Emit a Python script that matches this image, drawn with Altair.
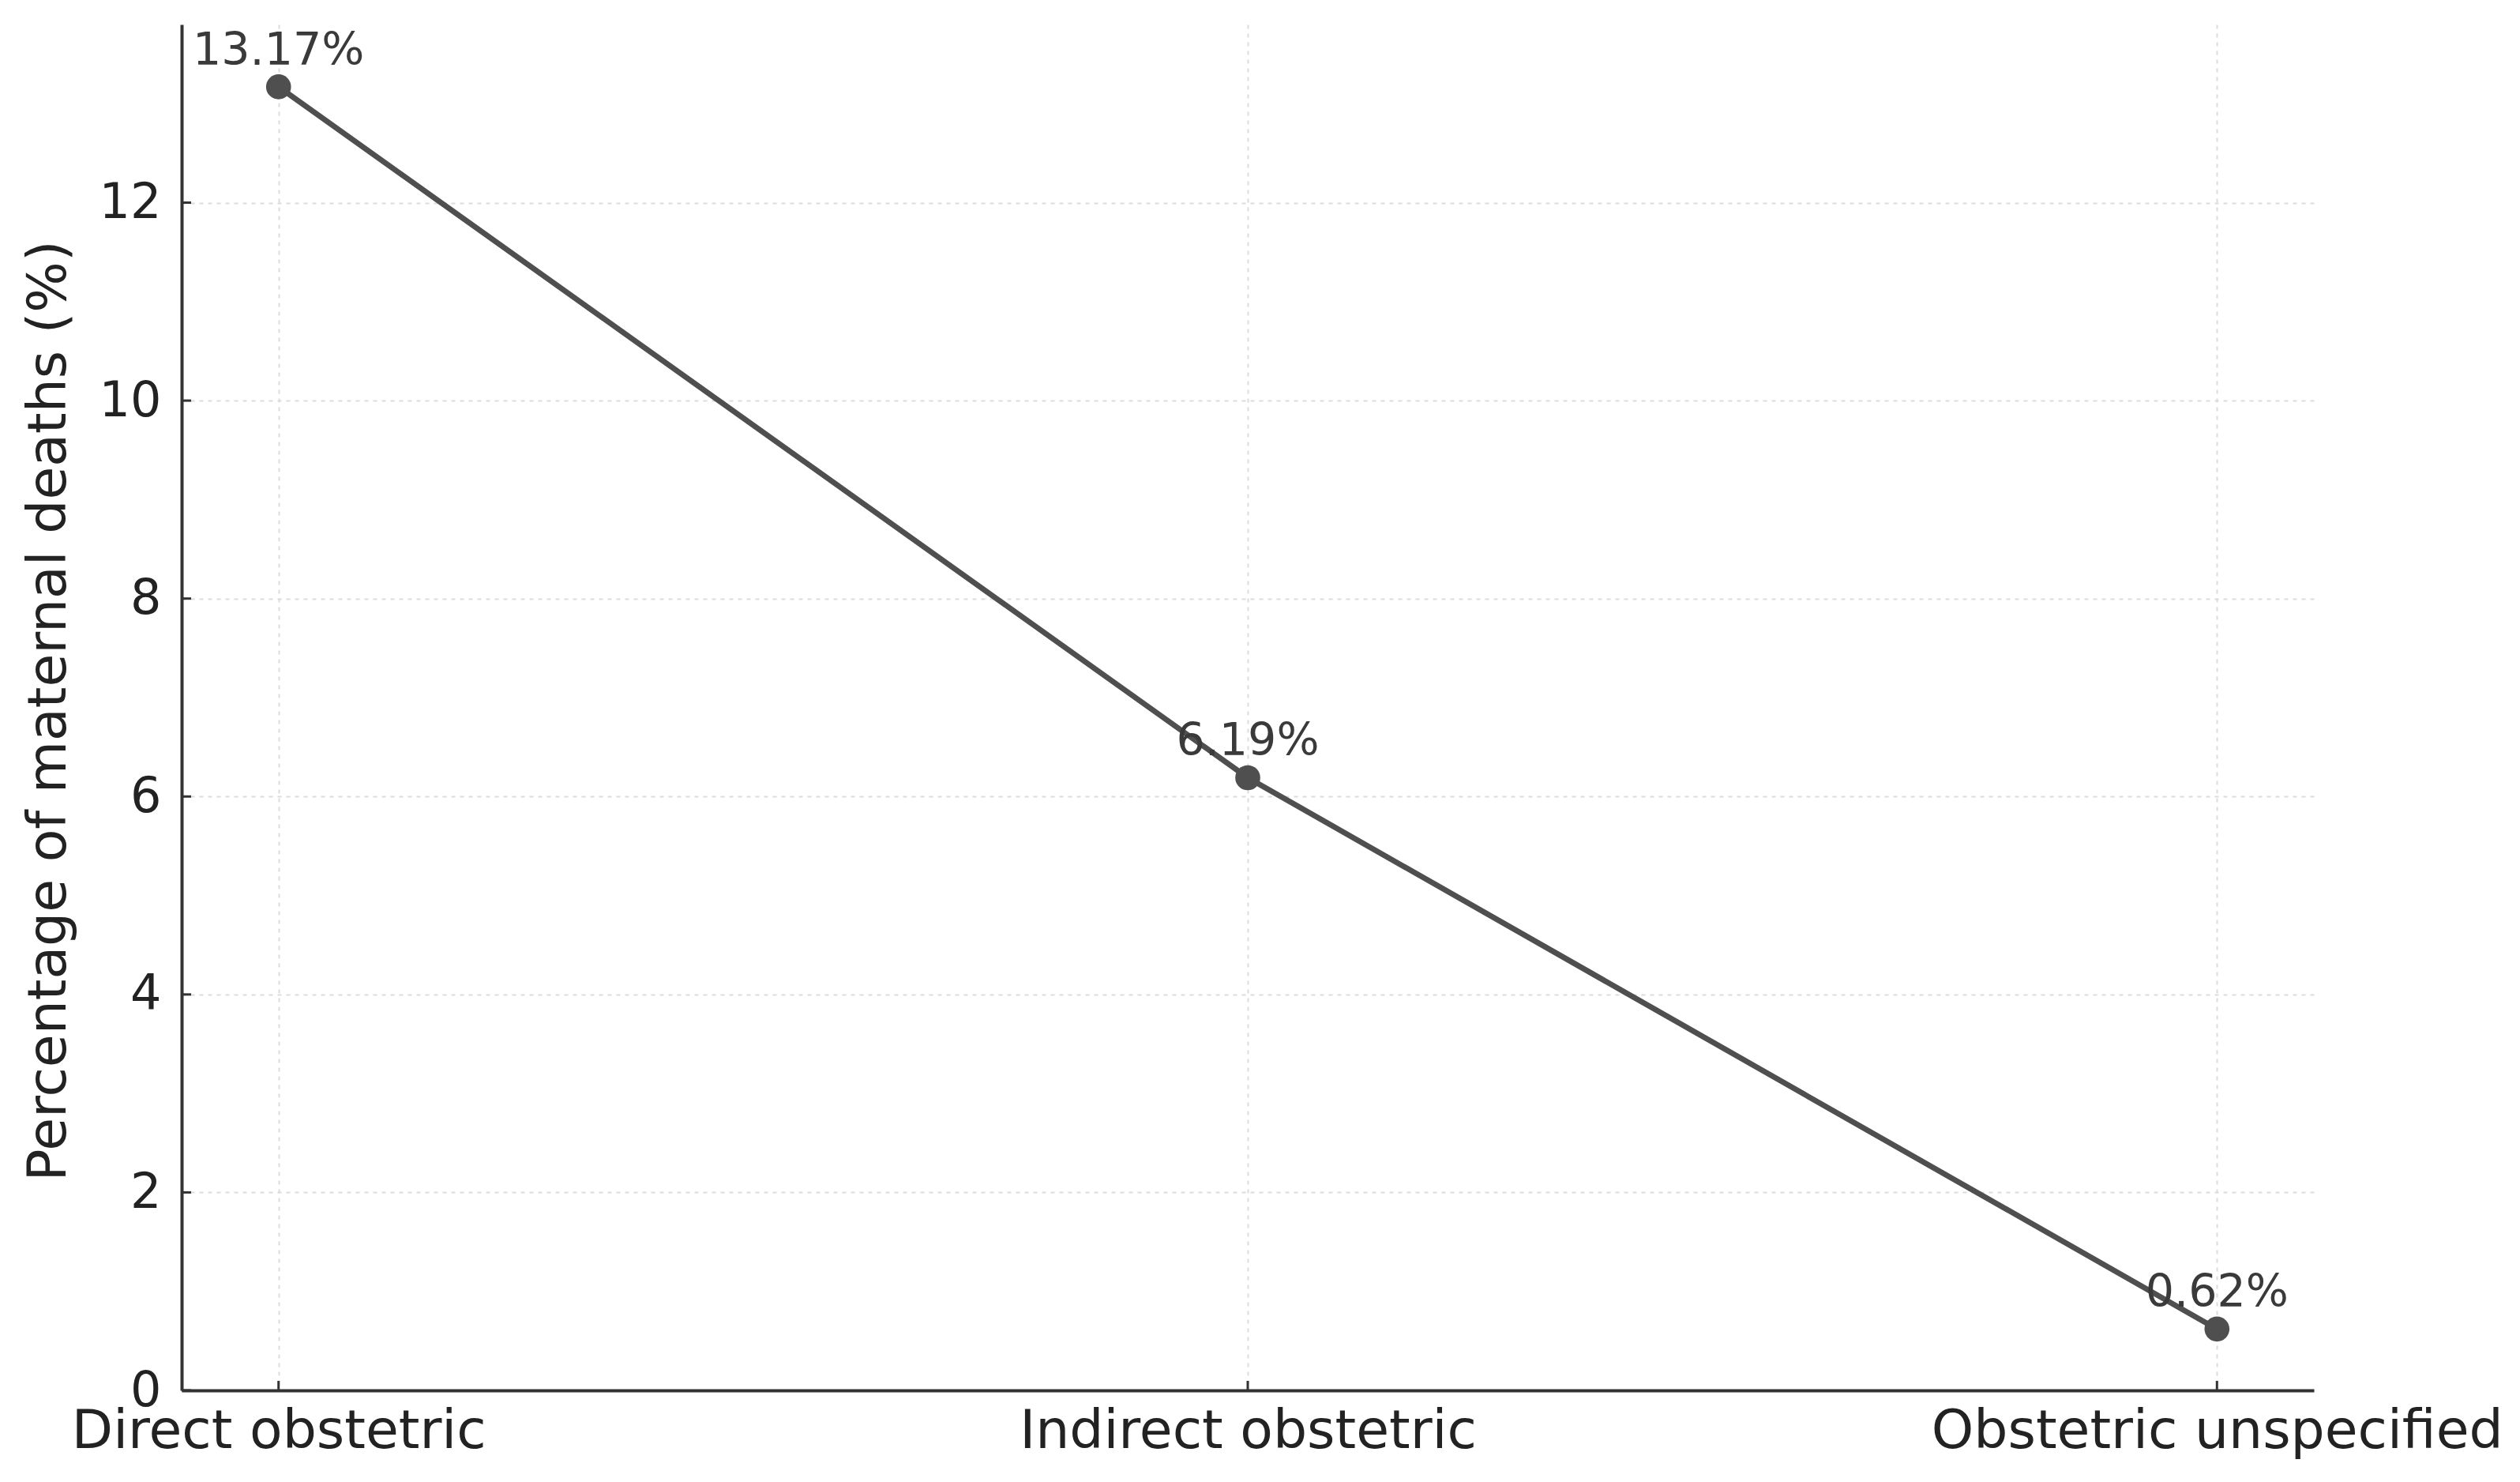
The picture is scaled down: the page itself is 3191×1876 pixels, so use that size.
import altair as alt
import pandas as pd

categories = ["Direct obstetric", "Indirect obstetric", "Obstetric unspecified"]
values = [13.17, 6.19, 0.62]
labels = ["13.17%", "6.19%", "0.62%"]
y_ticks = [0, 2, 4, 6, 8, 10, 12]

W, H = 2700, 1729
FONT = "DejaVu Sans"
LINE = "#4f4f4f"
AXIS = "#333333"

df = pd.DataFrame({"cat": categories, "val": values, "lab": labels})
ticks_df = pd.DataFrame({"t": y_ticks})

xs = alt.Scale(type="point", domain=categories, padding=0.1)
ys = alt.Scale(domain=[0, 13.8], nice=False, zero=True)

x_enc = alt.X("cat:N", scale=xs, sort=categories,
              axis=alt.Axis(title=None, labelAngle=0, labelFontSize=68, labelFont=FONT,
                            labelColor="#222222", labelPadding=18, ticks=False, labelLimit=2000,
                            domainColor=AXIS, domainWidth=4,
                            grid=True, gridColor="#dcdcdc", gridDash=[5, 6], gridWidth=2))
y_enc = alt.Y("val:Q", scale=ys,
              axis=alt.Axis(values=y_ticks, format="d", title="Percentage of maternal deaths (%)",
                            titleFontSize=68, titleFont=FONT, titleFontWeight="normal",
                            titleColor="#222222", titleAngle=270, titleX=-168, titleY=H / 2 + 4,
                            titleAlign="center", titleBaseline="middle",
                            labelFontSize=62, labelFont=FONT, labelColor="#222222",
                            labelPadding=26, ticks=False,
                            domainColor=AXIS, domainWidth=4,
                            grid=True, gridColor="#dcdcdc", gridDash=[5, 6], gridWidth=2))

base = alt.Chart(df)

line = base.mark_line(color=LINE, strokeWidth=7).encode(x=x_enc, y=y_enc)
pts = base.mark_point(filled=True, color=LINE, size=1000, opacity=1).encode(
    x=alt.X("cat:N", scale=xs, sort=categories), y=alt.Y("val:Q", scale=ys))
txt = base.mark_text(font=FONT, fontSize=57, color="#3a3a3a", dy=-45,
                     baseline="middle", align="center").encode(
    x=alt.X("cat:N", scale=xs, sort=categories), y=alt.Y("val:Q", scale=ys), text="lab:N")

ytick = alt.Chart(ticks_df).mark_rule(color=AXIS, strokeWidth=3).encode(
    y=alt.Y("t:Q", scale=ys), x=alt.value(0), x2=alt.value(12))
xtick = alt.Chart(df).mark_rule(color=AXIS, strokeWidth=3).encode(
    x=alt.X("cat:N", scale=xs, sort=categories), y=alt.value(H - 12), y2=alt.value(H))

chart = alt.layer(line, pts, txt, ytick, xtick).properties(
    width=W, height=H,
    autosize=alt.AutoSizeParams(type="none"),
    padding={"left": 222, "top": 23, "right": 253, "bottom": 108},
).configure(background="white", view=alt.ViewConfig(stroke="transparent", strokeWidth=0))

chart.save("out.html", embed_options={"renderer": "svg", "actions": False})
